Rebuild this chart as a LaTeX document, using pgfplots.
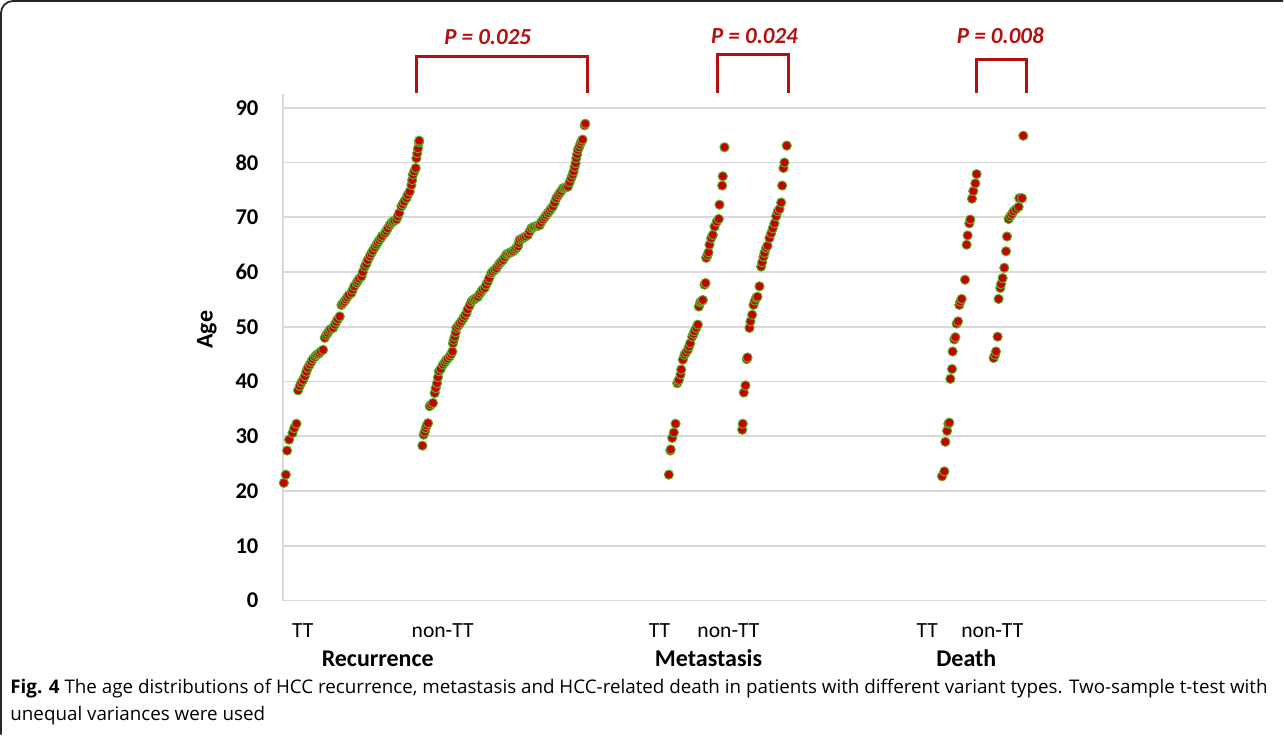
\documentclass[border=0pt]{standalone}
\usepackage{fontspec}
\setmainfont{Carlito}
\newfontfamily\capfont{Open Sans}
\usepackage{pgfplots}
\pgfplotsset{compat=1.18}
\definecolor{dotred}{RGB}{200,0,0}
\definecolor{dotgreen}{RGB}{90,175,40}
\definecolor{pred}{RGB}{180,16,16}
\definecolor{gridc}{RGB}{217,217,217}
\pgfplotsset{dots/.style={only marks, mark=*, mark size=2.3pt,
     mark options={fill=dotred, draw=dotgreen, line width=0.5pt}}}
\begin{document}
\begin{tikzpicture}
\begin{scope}[x=0.5pt,y=-0.5pt]
\useasboundingbox (0,0) rectangle (1284,735);
\end{scope}
\begin{axis}[
  at={(141.5pt,-300.5pt)}, anchor=south west,
  scale only axis, width=492pt, height=253.4pt,
  xmin=283, xmax=1267, ymin=0, ymax=92.5,
  axis x line=none, axis y line*=left,
  y axis line style={gridc, line width=0.9pt, -},
  ytick={0,10,...,90}, ymajorgrids,
  major grid style={gridc, line width=0.9pt},
  major tick length=0pt,
  yticklabel style={font=\bfseries\fontsize{11.3}{12}\selectfont, inner sep=0pt, xshift=-12pt},
  /pgf/number format/assume math mode=true,
  clip=false,
]
% Recurrence TT
\addplot[dots] coordinates {
(284,21.5)(286,23.0)(287.3,27.4)(289.3,29.4)(292.7,30.6)(294.5,31.5)(296.7,32.3)
(298.3,38.4)(300,39.2)(301.5,39.8)(303.3,40.3)(305,41.0)(306.5,41.8)(308,42.5)
(310,43.1)(311.5,43.6)(313,44.1)(315,44.5)(316.5,44.8)(318,45.0)(319.5,45.2)
(321,45.5)(323.3,45.8)(325,48.0)(326.5,48.5)(328,48.9)(329.5,49.3)(331,49.6)
(333.3,49.8)(335,50.4)(336.5,50.9)(338,51.4)(340,51.9)(341.7,54.0)(343,54.3)
(344.5,54.6)(346,55.0)(347.5,55.4)(349,55.8)(351.7,56.2)(353,56.8)(354.5,57.4)
(356.7,58.0)(358,58.4)(359.5,58.8)(361.7,59.2)(363,60.0)(365,61.0)(366.5,61.5)
(368,62.2)(370,62.9)(371.5,63.4)(373,63.9)(375,64.5)(376.7,65.0)(378,65.4)
(379.5,65.8)(381,66.2)(382.5,66.6)(385,67.1)(386.5,67.5)(388,68.0)(390,68.6)
(391.5,69.0)(393,69.2)(394.5,69.4)(396.7,69.6)(398,70.2)(399.5,70.8)(401.7,72.0)
(403,72.4)(404.5,72.9)(406.7,73.5)(408,74.1)(410,74.7)(411.7,75.9)(412.5,76.8)
(413.3,77.8)(414.5,78.4)(416,79.0)(416.7,80.8)(417.5,81.7)(418.3,82.6)(419.3,83.7)(419.5,84.0)
};
% Recurrence non-TT
\addplot[dots] coordinates {
(422.7,28.3)(424,30.3)(425,30.8)(426,31.5)(427,32.0)(428.3,32.4)(430,35.5)(431.5,35.8)
(433.3,36.1)(435,37.9)(436,38.8)(437.3,39.7)(438.3,40.8)(439.3,41.9)(441,42.3)(443.3,43.1)
(445,43.5)(446.5,43.9)(448,44.2)(450,44.6)(451.5,45.0)(452.7,45.5)(453.3,47.0)(454,47.6)
(455,48.2)(456,49.0)(456.7,49.8)(458.5,50.2)(460,50.6)(461.7,51.0)(463.5,51.5)(465,52.0)
(466.7,52.5)(468,53.2)(470,53.9)(471.7,54.6)(473.5,54.9)(475,55.1)(476.5,55.3)(478.3,55.5)
(480,56.0)(481.5,56.4)(483,56.8)(485,57.1)(486.5,57.7)(488.3,58.3)(489.5,58.9)(491.7,59.8)
(493,60.1)(495,60.4)(496.7,60.7)(498.5,61.2)(500,61.6)(501.5,61.9)(503.3,62.2)(505,62.7)
(506.7,63.2)(508.5,63.4)(510,63.5)(511.5,63.7)(513.3,63.8)(515,64.1)(516.5,64.4)(518.3,64.7)
(519,65.3)(520,65.9)(522,66.1)(524,66.3)(526,66.5)(528.3,66.8)(530,67.4)(531.7,68.0)
(533.5,68.2)(535,68.3)(537,68.4)(538.5,68.5)(540,68.6)(541.5,69.1)(543.3,69.6)(545,70.0)
(546.5,70.4)(548.3,70.8)(550,71.2)(551.5,71.6)(553.3,72.0)(555,72.7)(556.7,73.5)(558.5,74.0)
(560,74.4)(561.5,74.8)(563.3,75.3)(565,75.4)(566.5,75.5)(568.3,75.6)(570,76.4)(571.7,77.2)
(573,77.8)(574,78.4)(575,79.2)(576,79.9)(576.7,80.8)(577.5,81.5)(578.3,82.3)(579.5,82.8)
(580.5,83.3)(581.7,83.8)(583,84.2)(585,86.8)(585.7,87.1)
};
% Metastasis TT
\addplot[dots] coordinates {
(669.3,23.0)(670.7,27.4)(671.2,27.6)(672.7,29.7)(674.3,30.7)(676,32.3)(677.7,39.7)(678.5,40.0)
(679.3,40.3)(681,41.3)(681.7,42.2)(683.3,44.0)(685,44.9)(686.5,45.3)(688.3,45.8)(689.5,46.4)
(690.7,47.0)(692.7,48.2)(694,48.7)(695,49.2)(696.7,49.8)(698.3,50.4)(699.3,53.7)(700.7,54.5)
(702,54.7)(703.3,54.9)(705,57.7)(706,58.0)(706.7,62.6)(708,63.1)(709,63.6)(710,65.0)
(711.7,66.2)(713.3,66.8)(715,68.3)(717.3,69.2)(719.3,69.7)(720,72.3)(722.7,75.8)(723.3,77.5)(725,82.8)
};
% Metastasis non-TT
\addplot[dots] coordinates {
(742.7,31.2)(743.3,32.3)(744.3,38.0)(746,39.3)(747.3,44.1)(748,44.4)(750,49.8)(751,51.0)
(752.7,52.2)(754,54.0)(755.5,54.8)(756.7,55.3)(758,55.5)(760,57.4)(761.7,61.0)(762.7,61.8)
(764,62.8)(765,63.5)(766.7,64.4)(768,64.8)(770,66.2)(771.7,67.1)(773.3,68.0)(775,68.9)
(776.7,70.2)(778.3,71.1)(780,71.5)(781.7,72.7)(782.7,75.8)(784,79.0)(785,80.0)(787.3,83.1)
};
% Death TT
\addplot[dots] coordinates {
(942.7,22.7)(945,23.6)(946,29.0)(947.7,31.0)(949,32.3)(950,32.5)(951,40.5)(952.7,42.3)
(953.3,45.5)(955,47.7)(956,48.1)(957.3,50.6)(958.7,51.0)(960,54.0)(961,54.6)(962.3,55.1)
(965.7,58.6)(967.3,65.0)(968.3,66.7)(970,68.9)(971,69.6)(972.7,73.4)(974,74.8)(976,76.2)(977.3,77.9)
};
% Death non-TT
\addplot[dots] coordinates {
(994.3,44.3)(995.7,44.9)(996.7,45.5)(998.3,48.2)(999.3,55.1)(1001,57.1)(1001.7,57.8)(1003.3,58.9)
(1005,60.8)(1006.7,63.8)(1007.7,66.5)(1009.3,69.7)(1011,70.2)(1012.7,70.6)(1014.3,71.1)(1016.7,71.5)
(1019.3,71.9)(1020,73.5)(1022.7,73.5)(1024,84.9)
};
\end{axis}
\begin{scope}[x=0.5pt,y=-0.5pt]
\draw[line width=0.9pt, black!85, rounded corners=6pt] (1284,1) -- (1,1) -- (1,735);
% brackets
\draw[pred, line width=1.5pt] (417,93) -- (417,57) -- (588,57) -- (588,93);
\draw[pred, line width=1.5pt] (718,93) -- (718,55) -- (789,55) -- (789,93);
\draw[pred, line width=1.5pt] (977,93) -- (977,60) -- (1027,60) -- (1027,93);
\node[pred, font=\bfseries\itshape\fontsize{11.5}{12}\selectfont] at (488,37) {P = 0.025};
\node[pred, font=\bfseries\itshape\fontsize{11.5}{12}\selectfont] at (755,36) {P = 0.024};
\node[pred, font=\bfseries\itshape\fontsize{11.5}{12}\selectfont] at (1001,36) {P = 0.008};
% y label
\node[rotate=90, font=\bfseries\fontsize{12}{13}\selectfont] at (207,330) {Age};
% x labels
\begin{scope}[every node/.style={font=\fontsize{10.8}{12}\selectfont}]
\node at (303,631) {TT};
\node at (443,631) {non-TT};
\node at (660,631) {TT};
\node at (729,631) {non-TT};
\node at (928,631) {TT};
\node at (993,631) {non-TT};
\end{scope}
\begin{scope}[every node/.style={font=\bfseries\fontsize{12}{13}\selectfont}]
\node at (378,659) {Recurrence};
\node at (709,659) {Metastasis};
\node at (967,659) {Death};
\end{scope}
% caption
\node[anchor=base west, inner sep=0pt, font=\capfont\fontsize{9.4}{10}\selectfont] at (10,694)
 {\textbf{Fig. 4} The age distributions of HCC recurrence, metastasis and HCC-related death in patients with different variant types. Two-sample t-test with};
\node[anchor=base west, inner sep=0pt, font=\capfont\fontsize{9.4}{10}\selectfont] at (10,721)
 {unequal variances were used};
\end{scope}
\end{tikzpicture}
\end{document}
